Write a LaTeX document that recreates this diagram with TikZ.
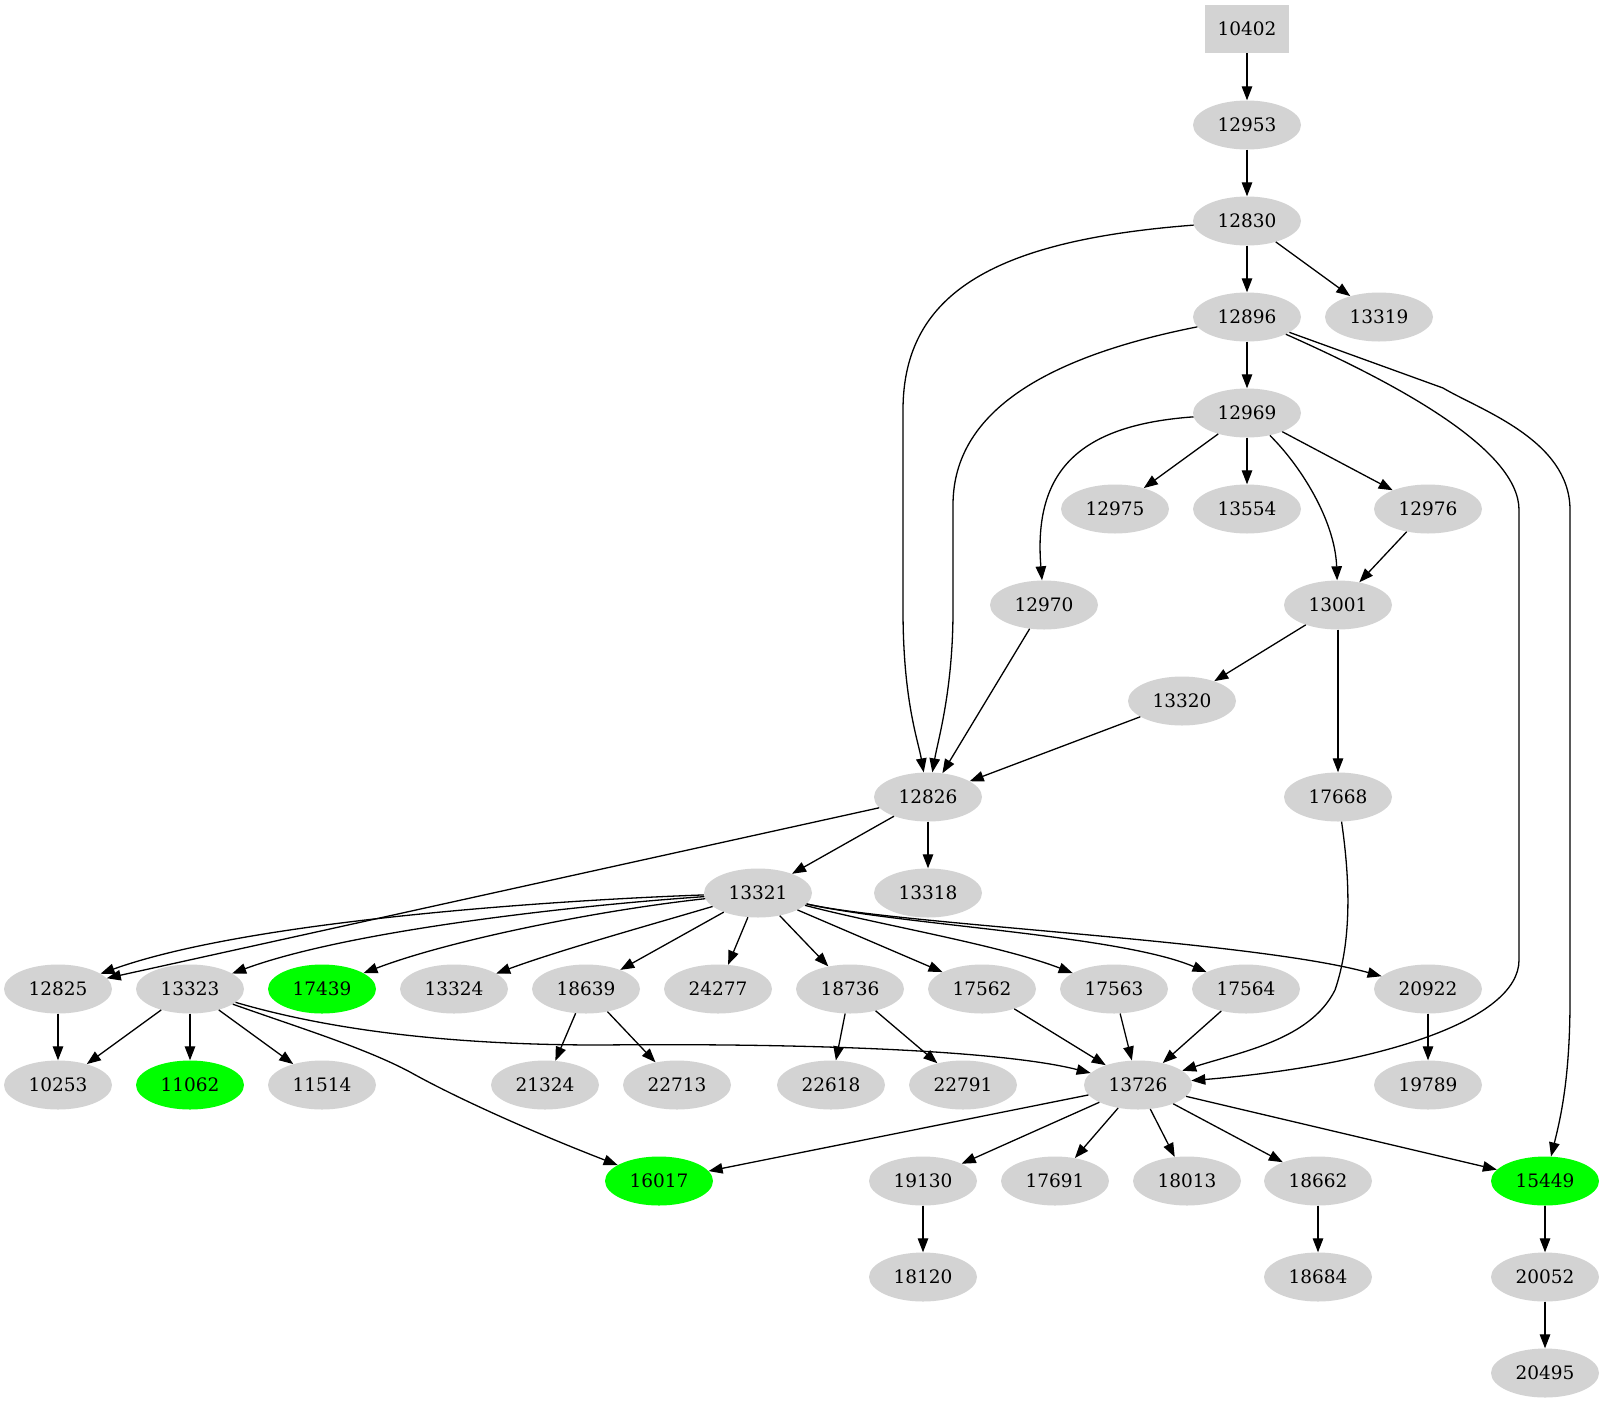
\documentclass[tikz,border=0pt]{standalone}
\usepackage{fontspec}
\setmainfont{DejaVu Serif}
\usetikzlibrary{shapes.geometric,arrows.meta}
\definecolor{ndgray}{RGB}{211,211,211}
\definecolor{ndgreen}{RGB}{0,255,0}
\begin{document}
\begin{tikzpicture}[x=1pt,y=-1pt,
  nd/.style={ellipse,fill=ndgray,draw=none,minimum width=108pt,minimum height=49pt,inner sep=0pt,font=\fontsize{18.5}{22}\selectfont},
  grn/.style={fill=ndgreen},
  bx/.style={rectangle,fill=ndgray,draw=none,minimum width=84pt,minimum height=48pt,inner sep=0pt,font=\fontsize{18.5}{22}\selectfont},
  ar/.style={-{Triangle[length=14pt,width=10.5pt]},line width=1.3pt}]
\useasboundingbox (0,0) rectangle (1605,1403);
% nodes
\node[bx] (n10402) at (1247,29) {10402};
\node[nd] (n12953) at (1247,125) {12953};
\node[nd] (n12830) at (1247,221) {12830};
\node[nd] (n12896) at (1247,317) {12896};
\node[nd] (n13319) at (1379,317) {13319};
\node[nd] (n12969) at (1247,413) {12969};
\node[nd] (n12975) at (1115,509) {12975};
\node[nd] (n13554) at (1247,509) {13554};
\node[nd] (n12976) at (1428,509) {12976};
\node[nd] (n12970) at (1044,605) {12970};
\node[nd] (n13001) at (1338,605) {13001};
\node[nd] (n13320) at (1182,701) {13320};
\node[nd] (n12826) at (928,797) {12826};
\node[nd] (n17668) at (1338,797) {17668};
\node[nd] (n13321) at (758,893) {13321};
\node[nd] (n13318) at (928,893) {13318};
\node[nd] (n12825) at (58,989) {12825};
\node[nd] (n13323) at (190,989) {13323};
\node[nd,grn] (n17439) at (322,989) {17439};
\node[nd] (n13324) at (454,989) {13324};
\node[nd] (n18639) at (586,989) {18639};
\node[nd] (n24277) at (718,989) {24277};
\node[nd] (n18736) at (850,989) {18736};
\node[nd] (n17562) at (982,989) {17562};
\node[nd] (n17563) at (1114,989) {17563};
\node[nd] (n17564) at (1246,989) {17564};
\node[nd] (n20922) at (1428,989) {20922};
\node[nd] (n10253) at (58,1085) {10253};
\node[nd,grn] (n11062) at (190,1085) {11062};
\node[nd] (n11514) at (322,1085) {11514};
\node[nd] (n21324) at (545,1085) {21324};
\node[nd] (n22713) at (677,1085) {22713};
\node[nd] (n22618) at (831,1085) {22618};
\node[nd] (n22791) at (963,1085) {22791};
\node[nd] (n13726) at (1138,1085) {13726};
\node[nd] (n19789) at (1428,1085) {19789};
\node[nd,grn] (n16017) at (659,1181) {16017};
\node[nd] (n19130) at (923,1181) {19130};
\node[nd] (n17691) at (1055,1181) {17691};
\node[nd] (n18013) at (1187,1181) {18013};
\node[nd] (n18662) at (1318,1181) {18662};
\node[nd,grn] (n15449) at (1545,1181) {15449};
\node[nd] (n18120) at (923,1277) {18120};
\node[nd] (n18684) at (1318,1277) {18684};
\node[nd] (n20052) at (1545,1277) {20052};
\node[nd] (n20495) at (1545,1373) {20495};
% straight edges
\draw[ar] (n10402) -- (n12953);
\draw[ar] (n12953) -- (n12830);
\draw[ar] (n12830) -- (n12896);
\draw[ar] (n12830) -- (n13319);
\draw[ar] (n12896) -- (n12969);
\draw[ar] (n12969) -- (n12975);
\draw[ar] (n12969) -- (n13554);
\draw[ar] (n12969) -- (n12976);
\draw[ar] (n12976) -- (n13001);
\draw[ar] (n13001) -- (n13320);
\draw[ar] (n13001) -- (n17668);
\draw[ar] (n12970) -- (n12826);
\draw[ar] (n13320) -- (n12826);
\draw[ar] (n12826) -- (n12825);
\draw[ar] (n12826) -- (n13321);
\draw[ar] (n12826) -- (n13318);
\draw[ar] (n13321) -- (n18639);
\draw[ar] (n13321) -- (n24277);
\draw[ar] (n13321) -- (n18736);
\draw[ar] (n13321) -- (n17562);
\draw[ar] (n12825) -- (n10253);
\draw[ar] (n13323) -- (n10253);
\draw[ar] (n13323) -- (n11062);
\draw[ar] (n13323) -- (n11514);
\draw[ar] (n18639) -- (n21324);
\draw[ar] (n18639) -- (n22713);
\draw[ar] (n18736) -- (n22618);
\draw[ar] (n18736) -- (n22791);
\draw[ar] (n17562) -- (n13726);
\draw[ar] (n17563) -- (n13726);
\draw[ar] (n17564) -- (n13726);
\draw[ar] (n20922) -- (n19789);
\draw[ar] (n13726) -- (n16017);
\draw[ar] (n13726) -- (n19130);
\draw[ar] (n13726) -- (n17691);
\draw[ar] (n13726) -- (n18013);
\draw[ar] (n13726) -- (n18662);
\draw[ar] (n13726) -- (n15449);
\draw[ar] (n19130) -- (n18120);
\draw[ar] (n18662) -- (n18684);
\draw[ar] (n15449) -- (n20052);
\draw[ar] (n20052) -- (n20495);
% curved edges
\draw[ar] (n12830) .. controls (1000,240) and (903,290) .. (903,410) -- (903,610) .. controls (903,700) and (918,740) .. (n12826);
\draw[ar] (n12896) .. controls (1030,360) and (953,420) .. (953,505) -- (953,610) .. controls (953,690) and (938,740) .. (n12826);
\draw[ar] (n12896) .. controls (1400,385) and (1519,450) .. (1519,510) -- (1519,960) .. controls (1519,1020) and (1380,1065) .. (n13726);
\draw[ar] (n12896) -- (1443,388) .. controls (1480,410) and (1570,440) .. (1570,510) -- (1570,1000) .. controls (1570,1080) and (1560,1120) .. (n15449);
\draw[ar] (n12969) .. controls (1080,425) and (1033,470) .. (n12970);
\draw[ar] (n12969) .. controls (1300,465) and (1335,520) .. (n13001);
\draw[ar] (n17668) .. controls (1350,880) and (1352,940) .. (1335,990) .. controls (1310,1040) and (1240,1052) .. (n13726);
\draw[ar] (n13321) .. controls (560,900) and (250,920) .. (n12825);
\draw[ar] (n13321) .. controls (580,905) and (350,930) .. (n13323);
\draw[ar] (n13321) .. controls (600,910) and (450,940) .. (n17439);
\draw[ar] (n13321) .. controls (650,925) and (560,950) .. (n13324);
\draw[ar] (n13321) .. controls (880,925) and (1000,945) .. (n17563);
\draw[ar] (n13321) .. controls (900,925) and (1120,935) .. (n17564);
\draw[ar] (n13321) .. controls (900,925) and (1250,940) .. (n20922);
\draw[ar] (n13323) .. controls (330,1030) and (450,1045) .. (600,1045) .. controls (800,1043) and (1000,1050) .. (n13726);
\draw[ar] (n13323) .. controls (300,1028) and (365,1048) .. (410,1072) .. controls (460,1100) and (540,1135) .. (n16017);
\end{tikzpicture}
\end{document}
